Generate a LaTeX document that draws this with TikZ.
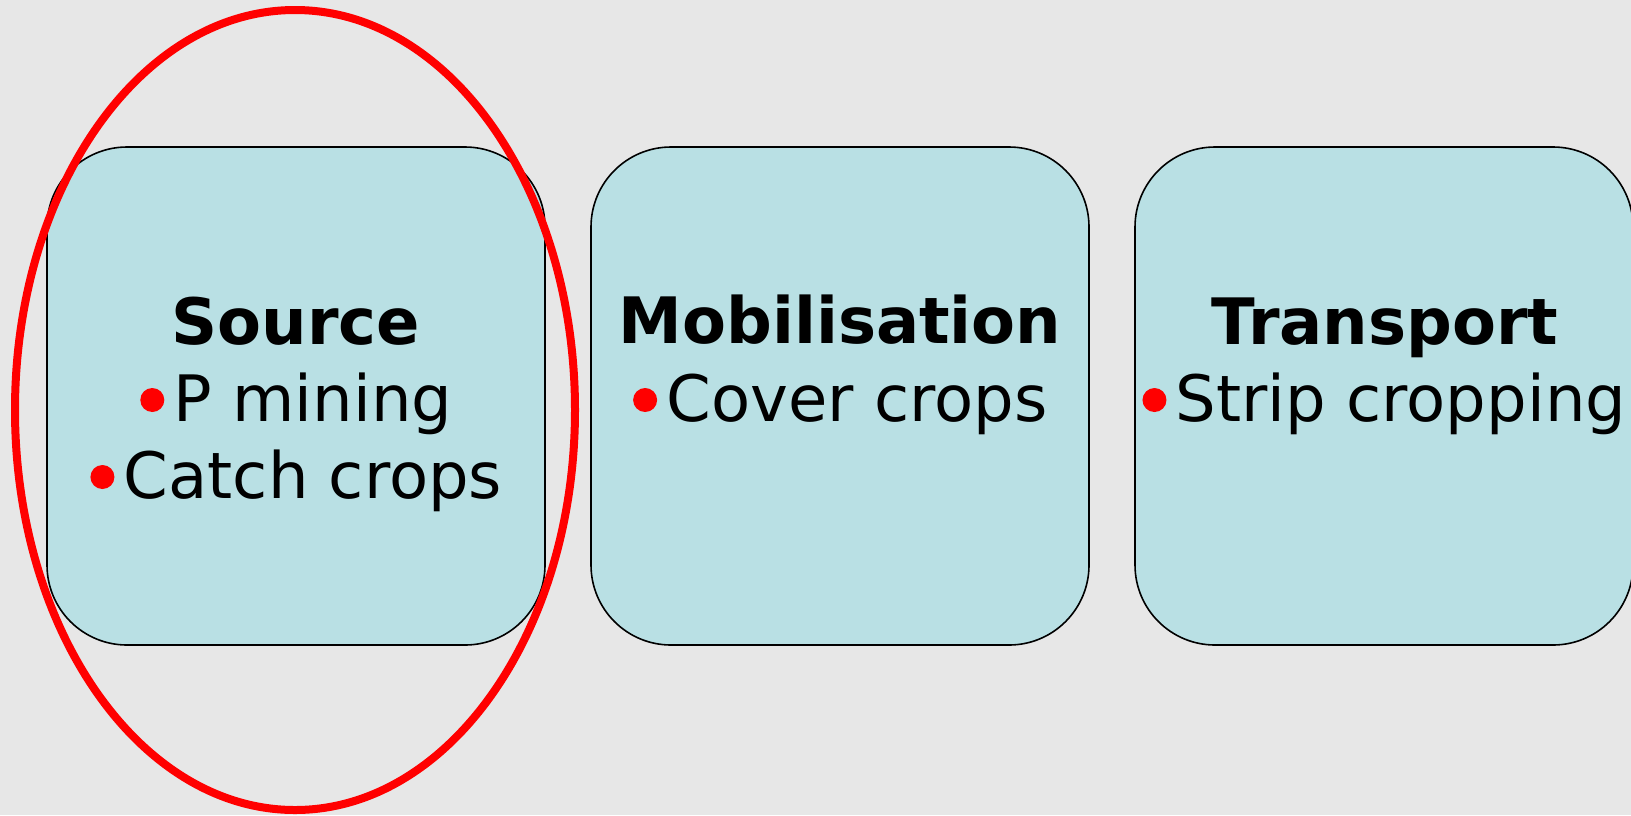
\documentclass[tikz,border=0pt]{standalone}
\usepackage{fontspec}
\usetikzlibrary{shapes.geometric}
\setmainfont{DejaVu Sans}
\definecolor{bg}{RGB}{231,231,231}
\definecolor{boxfill}{RGB}{185,224,228}
\begin{document}
\begin{tikzpicture}[x=0.5pt,y=-0.5pt,
  stage/.style={draw=black, line width=0.8pt, fill=boxfill, rounded corners=40pt,
    minimum width=249pt, minimum height=249pt, inner sep=0pt},
  title/.style={font=\fontsize{32}{36}\selectfont\bfseries, anchor=base, inner sep=0pt},
  item/.style={font=\fontsize{32}{36}\selectfont, anchor=base, inner sep=0pt},
  dot/.style={circle, fill=red, minimum size=12pt, inner sep=0pt}]
\fill[bg] (0,0) rectangle (1631,815);
\useasboundingbox (0,0) rectangle (1631,815);
\clip (0,0) rectangle (1631,815);
% boxes
\node[stage] (src) at (296,396) {};
\node[stage] (mob) at (840,396) {};
\node[stage] (tra) at (1384,396) {};
% titles
\node[title] (srcT) at (296,344) {Source};
\node[title] (mobT) at (840,343) {Mobilisation};
\node[title] (traT) at (1385,344) {Transport};
% items
\node[item] (i1) at (313,421) {P mining};
\node[item] (i2) at (313,498) {Catch crops};
\node[item] (i3) at (857,421) {Cover crops};
\node[item] (i4) at (1401,421) {Strip cropping};
\node[dot] (d1) at ([xshift=-10.5pt,yshift=10.5pt]i1.base west) {};
\node[dot] (d2) at ([xshift=-10.5pt,yshift=10.5pt]i2.base west) {};
\node[dot] (d3) at ([xshift=-10.5pt,yshift=10.5pt]i3.base west) {};
\node[dot] (d4) at ([xshift=-10.5pt,yshift=10.5pt]i4.base west) {};
% highlight ellipse
\node[draw=red, line width=4pt, ellipse, minimum width=280pt, minimum height=400pt, inner sep=0pt] (hl) at (295,410) {};
\end{tikzpicture}
\end{document}
